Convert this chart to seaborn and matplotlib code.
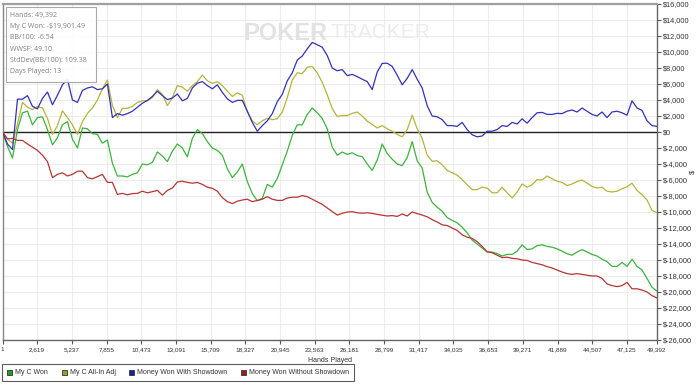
import numpy as np
import pandas as pd
import matplotlib
matplotlib.use("Agg")
import matplotlib.pyplot as plt
import seaborn as sns
from matplotlib.lines import Line2D
from matplotlib.patches import Rectangle
from matplotlib.ticker import FuncFormatter

# running totals in $ at evenly spaced hand counts
my_c_won = [
    0, -1800, -3250, 300, 2400, 2600, 900, 1800, 1900, 300,
    -1600, -700, 900, 1300, -900, -2000, 500, 400, -200, -300,
    -1400, -1000, -3900, -5500, -5500, -5600, -5300, -5100, -4000, -4100,
    -3800, -2500, -3000, -3700, -2400, -1500, -2000, -3100, -800, 300,
    -200, -1200, -2000, -2300, -2900, -4600, -5700, -5000, -4000, -6200,
    -7700, -8600, -8300, -6550, -6900, -5800, -4100, -2400, -400, 900,
    900, 2200, 3000, 2400, 1700, 400, -1900, -2900, -2500, -2800,
    -2600, -2950, -3080, -4000, -4800, -3500, -1500, -2700, -3400, -4000,
    -4200, -3200, -1200, -3600, -4500, -7500, -8800, -9400, -9900, -10700,
    -11050, -11350, -11900, -12600, -13500, -14000, -14500, -15000, -15000, -15200,
    -15500, -15300, -15300, -14900, -14100, -14700, -14600, -14200, -14100, -14300,
    -14400, -14600, -14900, -15200, -15400, -15000, -14700, -15000, -15300, -15500,
    -15900, -16200, -16800, -16800, -16300, -16800, -15900, -16800, -17250, -18300,
    -19400, -19900,
]
all_in_adj = [
    0, -900, -1400, 1000, 3700, 3100, 2800, 3200, 3000, 1700,
    -300, 800, 2650, 1800, 900, -300, 1300, 2330, 3000, 4000,
    5400, 6500, 3300, 1800, 2960, 2960, 3200, 3700, 3900, 3900,
    4300, 5300, 4700, 3300, 4300, 5800, 5600, 5100, 5800, 6300,
    7100, 6400, 6080, 6290, 5800, 5100, 4450, 4900, 4600, 2500,
    1400, 900, 1400, 1710, 1550, 1650, 2500, 4300, 6500, 7400,
    7300, 8100, 8200, 7400, 6200, 4650, 2900, 1950, 2050, 2050,
    2330, 2500, 2000, 1350, 950, 500, 800, 400, 100, -300,
    -600, 300, 2100, 400, -800, -2900, -3650, -3600, -4100, -4800,
    -5100, -5400, -5950, -6600, -7200, -7200, -6900, -7000, -7600, -7600,
    -6900, -7600, -8250, -7500, -6500, -6900, -6600, -5950, -6000, -5500,
    -5850, -6150, -6300, -6700, -6500, -6200, -6000, -6400, -6800, -7000,
    -6900, -7400, -7500, -7400, -7100, -6830, -6400, -7300, -7850, -8500,
    -9800, -10100,
]
with_showdown = [
    0, -1500, -2200, 4100, 4100, 4550, 3200, 2900, 4200, 5000,
    3400, 4600, 5900, 6600, 4000, 3700, 5200, 5500, 5650, 5300,
    5400, 6000, 1800, 2300, 2100, 2300, 2600, 3100, 3600, 3950,
    4450, 5100, 4550, 4050, 4250, 4750, 3900, 4200, 5500, 6100,
    6300, 5800, 5400, 5900, 4950, 4150, 3700, 3950, 3950, 2600,
    1200, 100, 800, 1400, 2300, 3800, 4700, 6400, 7400, 9000,
    9500, 10400, 11200, 10900, 10600, 9550, 8000, 7650, 7800, 7050,
    7200, 6920, 6600, 6300, 5300, 7500, 8580, 8600, 8200, 7100,
    5900, 6700, 7800, 6600, 5500, 3300, 2000, 1900, 1550, 800,
    800, 700, 1200, 300, -350, -600, -500, 100, 100, 300,
    800, 700, 1200, 1000, 1650, 1100, 1800, 2400, 2450, 2200,
    2200, 2330, 2300, 2600, 2750, 2500, 3000, 2600, 2200, 2000,
    2500, 1800, 2500, 2600, 2400, 2100, 3900, 3000, 2700, 1400,
    800, 700,
]
without_showdown = [
    0, -850, -800, -1050, -1050, -1500, -1900, -2300, -2900, -3700,
    -5700, -5300, -5100, -5500, -5300, -4900, -4900, -5700, -5850, -5580,
    -5300, -6300, -6300, -7800, -7670, -7850, -7700, -7670, -7400, -7600,
    -7460, -7300, -7900, -7300, -7000, -6250, -6150, -6300, -6400, -6300,
    -6550, -6900, -7040, -7400, -8200, -8700, -8950, -8650, -8500, -8400,
    -8710, -8550, -8400, -8080, -8400, -8550, -8550, -8250, -8150, -8150,
    -7950, -8080, -8400, -8710, -9050, -9500, -9950, -10380, -10170, -10000,
    -9960, -10100, -10150, -10100, -10170, -10300, -10400, -10500, -10450, -10550,
    -10250, -10500, -10000, -10200, -10380, -10600, -10950, -11250, -11600, -11700,
    -12000, -12300, -12850, -13150, -13300, -13700, -14300, -14950, -15100, -15400,
    -15700, -15650, -15790, -15850, -16000, -16050, -16300, -16450, -16600, -16830,
    -17000, -17250, -17500, -17700, -17800, -17700, -17800, -17900, -18000, -18000,
    -18300, -19000, -19200, -19330, -19200, -18800, -19600, -19600, -19750, -20000,
    -20450, -20750,
]

total_hands = 49392
series_names = ["My C Won", "My C All-In Adj", "Money Won With Showdown",
                "Money Won Without Showdown"]
line_colors = ["#3cb43c", "#b4b43a", "#3232b8", "#b83434"]
legend_colors = ["#1f9f1f", "#a0a020", "#1c1c9c", "#a01c1c"]

x_ticks = [1, 2619, 5237, 7855, 10473, 13091, 15709, 18327, 20945, 23563,
           26181, 28799, 31417, 34035, 36653, 39271, 41889, 44507, 47125, 49392]
y_ticks = list(range(-26000, 16001, 2000))

stats_lines = ["Hands: 49,392", "My C Won: -$19,901.49", "BB/100: -6.54",
               "WWSF: 49.10", "StdDev(BB/100): 109.38", "Days Played: 13"]

hands = np.linspace(1, total_hands, len(my_c_won))
wide = pd.DataFrame({
    "hands": hands,
    series_names[0]: my_c_won,
    series_names[1]: all_in_adj,
    series_names[2]: with_showdown,
    series_names[3]: without_showdown,
})
long = wide.melt(id_vars="hands", var_name="series", value_name="won")

sns.set_style("white")
plt.rcParams["font.family"] = ["Liberation Sans", "DejaVu Sans"]

fig = plt.figure(figsize=(7, 3.87), dpi=100)
W, H = 700, 387
ax = fig.add_axes([2.5 / W, 1 - 340 / H, 654.5 / W, 336 / H])

sns.lineplot(data=long, x="hands", y="won", hue="series", hue_order=series_names,
             palette=line_colors, estimator=None, sort=False, legend=False,
             linewidth=0.9, ax=ax, zorder=3)

ax.axhline(0, color="#222222", lw=1.0, zorder=2)
ax.set_xlim(1, total_hands)
ax.set_ylim(-26000, 16000)
ax.set_xticks(x_ticks)
ax.set_xticklabels([f"{t:,}" for t in x_ticks])
ax.set_yticks(y_ticks)
ax.yaxis.tick_right()
ax.yaxis.set_major_formatter(FuncFormatter(lambda v, p: f"${int(v):,}" if v >= 0 else f"$-{int(-v):,}"))
ax.grid(True, color="#ededed", lw=0.8)
ax.set_axisbelow(True)
ax.set_xlabel("")
ax.set_ylabel("")
ax.tick_params(axis="x", length=3, width=0.8, color="#555555", labelsize=4.6,
               labelcolor="#333333", pad=2, direction="out", bottom=True)
ax.tick_params(axis="y", length=3, width=0.8, color="#555555", labelsize=5.3,
               labelcolor="#333333", pad=1.5, direction="out", right=True, left=False)
for side, c in [("top", "#a0a0a0"), ("left", "#888888"), ("right", "#666666"), ("bottom", "#666666")]:
    ax.spines[side].set_visible(True)
    ax.spines[side].set_color(c)
    ax.spines[side].set_linewidth(1.0)
ax.spines["top"].set_linewidth(1.6)

# watermark
ax.text((243 - 2.5) / 654.5, (340 - 33) / 336, "POKER", transform=ax.transAxes,
        fontsize=17, fontweight="bold", color="#e2e2e2", ha="left", va="center", zorder=1)
ax.text((330 - 2.5) / 654.5, (340 - 33) / 336, "TRACKER", transform=ax.transAxes,
        fontsize=15, color="#ececec", ha="left", va="center", zorder=1)

# stats box
fig.patches.append(Rectangle((6 / W, 1 - 82 / H), 90 / W, 75 / H, transform=fig.transFigure,
                             facecolor="white", edgecolor="#a0a0a0", lw=0.8, alpha=0.9, zorder=5))
for i, line in enumerate(stats_lines):
    fig.text(9.5 / W, 1 - (15 + 11.35 * i) / H, line, fontsize=5, color="#808080",
             family=["Open Sans", "DejaVu Sans"], ha="left", va="center", zorder=6)

fig.text(330 / W, 1 - 361 / H, "Hands Played", fontsize=5, color="#333333", ha="center", va="center")
fig.text(693 / W, 1 - 172 / H, "$", fontsize=5.5, color="#333333", ha="center", va="center", rotation=90)

handles = [Line2D([], [], marker="s", linestyle="", markersize=3.6, markerfacecolor=c,
                  markeredgecolor="#333333", markeredgewidth=0.6) for c in legend_colors]
leg = fig.legend(handles, series_names, loc="lower left", bbox_to_anchor=(2 / W, 1 - 381 / H),
                 ncol=4, fontsize=5, frameon=True, fancybox=False, handlelength=0.7,
                 handletextpad=0.5, columnspacing=1.9, borderpad=0.7, borderaxespad=0)
leg.get_frame().set_edgecolor("#333333")
leg.get_frame().set_linewidth(0.8)
for t in leg.get_texts():
    t.set_color("#333333")

fig.savefig("out.png", dpi=100)
